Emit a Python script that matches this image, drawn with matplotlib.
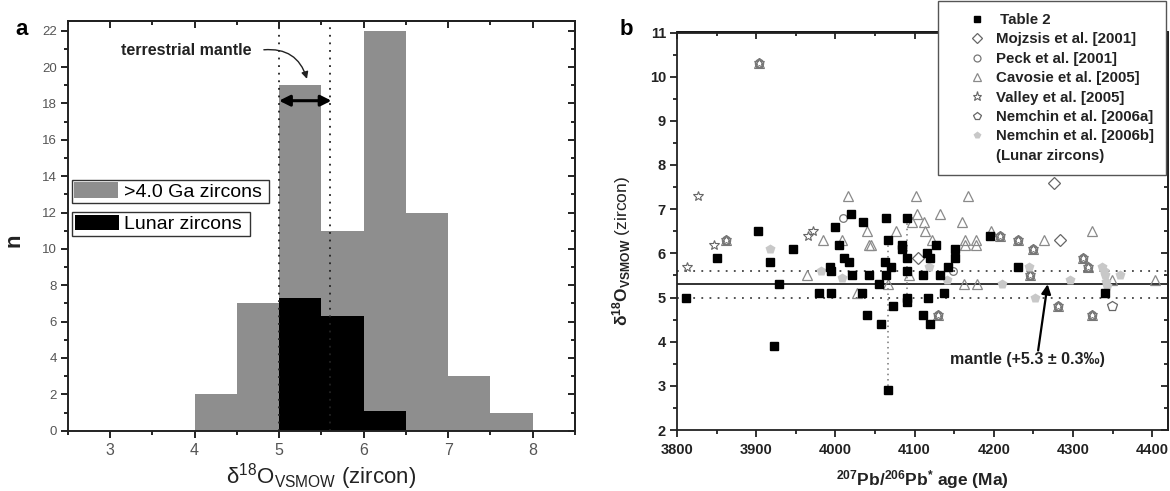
import matplotlib
matplotlib.use('Agg')
import matplotlib.pyplot as plt
from matplotlib.lines import Line2D
from matplotlib.patches import Patch
from matplotlib.ticker import MultipleLocator

plt.rcParams['font.family'] = ['Liberation Sans', 'DejaVu Sans']
plt.rcParams['mathtext.fontset'] = 'custom'
plt.rcParams['mathtext.rm'] = 'Liberation Sans'
plt.rcParams['mathtext.bf'] = 'Liberation Sans:bold'
plt.rcParams['mathtext.it'] = 'Liberation Sans:italic'

# ---- panel a: d18O histogram ----
bin_left = [4.0, 4.5, 5.0, 5.5, 6.0, 6.5, 7.0, 7.5]
n_old = [2, 7, 19, 11, 22, 12, 3, 1]
lunar_left = [5.0, 5.5, 6.0]
n_lunar = [7.3, 6.3, 1.1]
bin_width = 0.5
mantle_lo, mantle_mid, mantle_hi = 5.0, 5.3, 5.6

# ---- panel b: d18O vs 207Pb/206Pb age ----
t2_age = [3811, 3851, 3902, 3918, 3923, 3929, 3946, 3979, 3994, 3993, 3994,
          4000, 4004, 4011, 4017, 4020, 4021, 4033, 4035, 4040, 4042, 4055,
          4057, 4063, 4064, 4064, 4067, 4067, 4070, 4073, 4084, 4084, 4091,
          4091, 4091, 4091, 4091, 4110, 4110, 4116, 4120, 4117, 4120, 4127,
          4132, 4137, 4142, 4151, 4151, 4195, 4230, 4340]
t2_d18o = [5.0, 5.9, 6.5, 5.8, 3.9, 5.3, 6.1, 5.1, 5.1, 5.7, 5.6,
           6.6, 6.2, 5.9, 5.8, 6.9, 5.5, 5.1, 6.7, 4.6, 5.5, 5.3,
           4.4, 5.8, 6.8, 5.5, 2.9, 6.3, 5.7, 4.8, 6.2, 6.1, 6.8,
           5.9, 5.6, 5.0, 4.9, 5.5, 4.6, 6.0, 5.9, 5.0, 4.4, 6.2,
           5.5, 5.1, 5.7, 6.1, 5.9, 6.4, 5.7, 5.1]

moj_age = [4104, 4276, 4283]
moj_d18o = [5.9, 7.6, 6.3]

peck_age = [4009, 4149]
peck_d18o = [6.8, 5.6]

cav_age = [3964, 3984, 4008, 4016, 4027, 4040, 4042, 4045, 4066, 4077, 4093,
           4097, 4102, 4103, 4112, 4113, 4122, 4132, 4160, 4163, 4164, 4164,
           4167, 4177, 4177, 4179, 4196, 4264, 4324, 4349, 4404]
cav_d18o = [5.5, 6.3, 6.3, 7.3, 5.1, 6.5, 6.2, 6.2, 5.3, 6.5, 5.5,
            6.7, 7.3, 6.9, 6.7, 6.5, 6.3, 6.9, 6.7, 5.3, 6.3, 6.2,
            7.3, 6.3, 6.2, 5.3, 6.5, 6.3, 6.5, 5.4, 5.4]

val_age = [3812, 3826, 3847, 3965, 3972]
val_d18o = [5.7, 7.3, 6.2, 6.4, 6.5]

nem_a_age = [4349]
nem_a_d18o = [4.8]

nem_b_age = [3917, 3982, 4008, 4118, 4141, 4211, 4245, 4252, 4296, 4337,
             4339, 4341, 4342, 4343, 4359]
nem_b_d18o = [6.1, 5.6, 5.45, 5.7, 5.4, 5.3, 5.7, 5.0, 5.4, 5.7,
              5.6, 5.5, 5.35, 5.25, 5.5]

# grains reported by several studies (markers overlap)
multi_age = [3862, 3903, 4130, 4208, 4231, 4250, 4246, 4313, 4319, 4281, 4324]
multi_d18o = [6.3, 10.3, 4.6, 6.4, 6.3, 6.1, 5.5, 5.9, 5.7, 4.8, 4.6]

# repeat analyses on single grains
tie_age = [4067, 4091]
tie_top = [6.3, 6.8]
tie_bottom = [2.9, 4.9]

gray = '#8e8e8e'
lunar_gray = '#c8c8c8'
W, H = 1170, 491
fig = plt.figure(figsize=(W / 100, H / 100), dpi=100)

axa = fig.add_axes([67.7 / W, 1 - 430.7 / H, 507.3 / W, 410 / H])
axb = fig.add_axes([677 / W, 1 - 430 / H, 491 / W, 397.5 / H])


def style_axes(ax, xmaj, xmin, ymaj, ymin, lw, lab_kw_x, lab_kw_y):
    for s in ax.spines.values():
        s.set_linewidth(lw)
        s.set_color('#222')
    ax.xaxis.set_major_locator(MultipleLocator(xmaj))
    ax.xaxis.set_minor_locator(MultipleLocator(xmin))
    ax.yaxis.set_major_locator(MultipleLocator(ymaj))
    ax.yaxis.set_minor_locator(MultipleLocator(ymin))
    ax.tick_params(which='both', direction='out', width=lw, color='#222')
    ax.tick_params(which='major', length=5)
    ax.tick_params(which='minor', length=3)
    ax.tick_params(axis='x', pad=4, **lab_kw_x)
    ax.tick_params(axis='y', pad=3, **lab_kw_y)
    top = ax.secondary_xaxis('top')
    top.xaxis.set_major_locator(MultipleLocator(xmaj))
    top.xaxis.set_minor_locator(MultipleLocator(xmin))
    top.tick_params(which='both', direction='in', width=lw, color='#222',
                    labeltop=False)
    top.tick_params(which='major', length=5)
    top.tick_params(which='minor', length=3)
    top.spines['top'].set_linewidth(lw)
    right = ax.secondary_yaxis('right')
    right.yaxis.set_major_locator(MultipleLocator(ymaj))
    right.yaxis.set_minor_locator(MultipleLocator(ymin))
    right.tick_params(which='both', direction='in', width=lw, color='#222',
                      labelright=False)
    right.tick_params(which='major', length=5)
    right.tick_params(which='minor', length=3)
    right.spines['right'].set_linewidth(lw)


# ---------- panel a ----------
axa.bar(bin_left, n_old, width=bin_width, align='edge', color=gray, lw=0, zorder=1)
axa.bar(lunar_left, n_lunar, width=bin_width, align='edge', color='k', lw=0, zorder=2)
for xv in (mantle_lo, mantle_hi):
    axa.axvline(xv, color='#222', lw=1.3, ls=(0, (1, 3.2)), zorder=3)
axa.set_xlim(2.5, 8.5)
axa.set_ylim(0, 22.55)
style_axes(axa, 1, 0.5, 2, 1, 1.4,
           dict(labelsize=11.5, labelcolor='#555'),
           dict(labelsize=9.5, labelcolor='#555'))

axa.annotate('', xy=(5.62, 18.15), xytext=(5.0, 18.15),
             arrowprops=dict(arrowstyle='<|-|>', color='k', lw=2.2,
                             mutation_scale=16, shrinkA=0, shrinkB=0), zorder=5)
axa.text(3.90, 20.9, 'terrestrial mantle', ha='center', va='center',
         fontsize=11.5, fontweight='bold', color='#222')
axa.annotate('', xy=(5.33, 19.35), xytext=(4.82, 20.95),
             arrowprops=dict(arrowstyle='-|>', color='#222', lw=1.0,
                             connectionstyle='arc3,rad=-0.4',
                             mutation_scale=10, shrinkA=0, shrinkB=0))

leg_kw = dict(loc='upper left', fontsize=14, frameon=True, fancybox=False,
              edgecolor='#333', framealpha=1, borderpad=0.12, handlelength=2.27,
              handleheight=0.87, handletextpad=0.28, borderaxespad=0)
leg1 = axa.legend([Patch(facecolor=gray, edgecolor='none')], ['>4.0 Ga zircons '],
                  bbox_to_anchor=(0.008, 0.6115), **leg_kw)
leg1.get_frame().set_linewidth(1.0)
axa.add_artist(leg1)
leg2 = axa.legend([Patch(facecolor='k', edgecolor='none')], ['Lunar zircons '],
                  bbox_to_anchor=(0.009, 0.5327), **leg_kw)
leg2.get_frame().set_linewidth(1.0)

axa.set_xlabel('\u03b4$^{18}$O$_{\\rm VSMOW}$ (zircon)', fontsize=16, color='#222')
axa.xaxis.set_label_coords(0.5, -0.074)
axa.set_ylabel('n', fontsize=16, fontweight='bold', color='#222')
axa.yaxis.set_label_coords(-0.085, 0.465)

# ---------- panel b ----------
axb.axhline(mantle_mid, color='#222', lw=1.3, zorder=1)
for yv in (mantle_lo, mantle_hi):
    axb.axhline(yv, color='#444', lw=1.3, ls=(0, (1, 3.5)), zorder=1)
for xv, y0, y1 in zip(tie_age, tie_top, tie_bottom):
    axb.plot([xv, xv], [y0, y1], color='#777', lw=1.1, ls=(0, (1, 2.5)), zorder=1)

hollow = dict(ls='none', mfc='none', zorder=3)
axb.plot(cav_age, cav_d18o, marker='^', ms=7.5, mec='#8a8a8a', mew=0.9, **hollow)
axb.plot(moj_age, moj_d18o, marker='D', ms=6, mec='#666', mew=0.9, **hollow)
axb.plot(peck_age, peck_d18o, marker='o', ms=5.5, mec='#777', mew=0.9, **hollow)
axb.plot(val_age, val_d18o, marker='*', ms=7.5, mec='#666', mew=0.8, **hollow)
axb.plot(nem_a_age, nem_a_d18o, marker='p', ms=7, mec='#666', mew=0.9, **hollow)
for mk, ms in (('^', 7), ('o', 6), ('*', 7.5), ('p', 6.5)):
    axb.plot(multi_age, multi_d18o, marker=mk, ms=ms, mec='#777', mew=0.8, **hollow)
axb.plot(nem_b_age, nem_b_d18o, ls='none', marker='p', ms=7.5, mfc=lunar_gray,
         mec='none', zorder=4)
axb.plot(t2_age, t2_d18o, ls='none', marker='s', ms=5.3, mfc='k', mec='k',
         zorder=5)

axb.set_xlim(3800, 4420)
axb.set_ylim(2, 11)
style_axes(axb, 100, 50, 1, 0.5, 1.3,
           dict(labelsize=10.5, labelcolor='#222'),
           dict(labelsize=10.5, labelcolor='#222'))
for lab in axb.get_xticklabels() + axb.get_yticklabels():
    lab.set_fontweight('bold')

axb.annotate('', xy=(4268, 5.3), xytext=(4256, 3.8),
             arrowprops=dict(arrowstyle='-|>', color='k', lw=1.6,
                             mutation_scale=14, shrinkA=0, shrinkB=0), zorder=6)
axb.text(4243, 3.6, 'mantle (+5.3 \u00b1 0.3\u2030)', ha='center', va='center',
         fontsize=11.5, fontweight='bold', color='#222')

axb.set_xlabel(r'$^{\mathbf{207}}$Pb/$^{\mathbf{206}}$Pb$^{\mathbf{*}}$ age (Ma)',
               fontsize=12.5, fontweight='bold', color='#222')
axb.xaxis.set_label_coords(0.5, -0.095)
axb.set_ylabel('$\\mathbf{\u03b4^{18}O_{VSMOW}}$ (zircon)', fontsize=12.5, color='#222')
axb.yaxis.set_label_coords(-0.09, 0.45)

handles = [
    Line2D([], [], ls='none', marker='s', ms=4.5, mfc='k', mec='k'),
    Line2D([], [], ls='none', marker='D', ms=5, mfc='none', mec='#666', mew=0.9),
    Line2D([], [], ls='none', marker='o', ms=5, mfc='none', mec='#777', mew=0.9),
    Line2D([], [], ls='none', marker='^', ms=6, mfc='none', mec='#8a8a8a', mew=0.9),
    Line2D([], [], ls='none', marker='*', ms=6.5, mfc='none', mec='#666', mew=0.8),
    Line2D([], [], ls='none', marker='p', ms=5.5, mfc='none', mec='#666', mew=0.9),
    Line2D([], [], ls='none', marker='p', ms=6, mfc=lunar_gray, mec='none'),
    Line2D([], [], ls='none', marker=''),
]
labels = [' Table 2', 'Mojzsis et al. [2001]', 'Peck et al. [2001]',
          'Cavosie et al. [2005]', 'Valley et al. [2005]',
          'Nemchin et al. [2006a]', 'Nemchin et al. [2006b]', '(Lunar zircons)']
legb = fig.legend(handles, labels, loc='upper left',
                  bbox_to_anchor=(938.3 / W, 1 - 1 / H),
                  prop={'weight': 'bold', 'size': 10.8}, frameon=True,
                  fancybox=False, edgecolor='#555', framealpha=1,
                  borderpad=0.8, handlelength=3.6, handletextpad=-0.55,
                  labelspacing=0.36, borderaxespad=0)
legb.get_frame().set_linewidth(1.0)
for t in legb.get_texts():
    t.set_color('#222')

fig.text(21.7 / W, 1 - 35 / H, 'a', fontsize=16, fontweight='bold', ha='center',
         va='baseline')
fig.text(626.8 / W, 1 - 35 / H, 'b', fontsize=16, fontweight='bold', ha='center',
         va='baseline')

fig.savefig('out.png', dpi=100)
